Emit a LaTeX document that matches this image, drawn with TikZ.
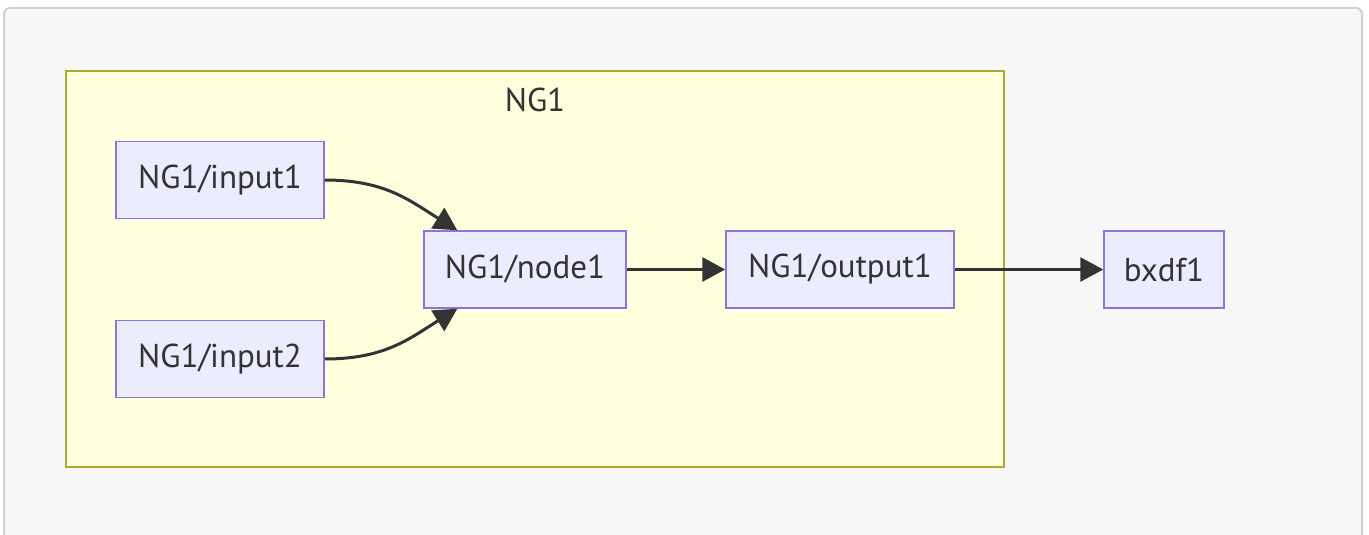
\documentclass[tikz,border=0pt]{standalone}
\usepackage{fontspec}
\setmainfont{PT Sans}
\usetikzlibrary{arrows.meta}

\definecolor{ngfill}{HTML}{ECECFF}
\definecolor{ngline}{HTML}{9370DB}
\definecolor{ngtext}{HTML}{333333}
\definecolor{grpfill}{HTML}{FFFFDE}
\definecolor{grpline}{HTML}{AAAA33}
\definecolor{bgfill}{HTML}{F7F7F7}
\definecolor{bgline}{HTML}{D0D0D0}

\begin{document}
\begin{tikzpicture}[x=1pt, y=-1pt,
    ngbox/.style={draw=ngline, fill=ngfill, line width=1.5pt, minimum height=77pt,
        inner sep=0pt, text=ngtext, font=\fontsize{33}{39}\selectfont},
    ngedge/.style={draw=ngtext, line width=3pt, -{Triangle[length=23pt,width=24pt]}}]

    % canvas
    \useasboundingbox (0,0) rectangle (1369,535);
    \clip (0,0) rectangle (1369,535);
    \draw [bgline, fill=bgfill, line width=2pt, rounded corners=6pt] (4,8) rectangle (1362,570);

    % group NG1
    \draw [grpline, fill=grpfill, line width=1.5pt] (66,71) rectangle (1004,467);
    \node [text=ngtext, font=\fontsize{33}{39}\selectfont] (ng1) at (535,100) {NG1};

    % nodes
    \node [ngbox, minimum width=208pt] (in1) at (220,180) {NG1/input1};
    \node [ngbox, minimum width=208pt] (in2) at (220,359) {NG1/input2};
    \node [ngbox, minimum width=202pt] (node1) at (525,269.5) {NG1/node1};
    \node [ngbox, minimum width=228pt] (out1) at (840,269.5) {NG1/output1};
    \node [ngbox, minimum width=120pt] (bxdf1) at (1164,269.5) {bxdf1};

    % edges
    \draw [ngedge] (in1.east) .. controls +(60,0) and +(-48,-30) .. ([xshift=34pt]node1.north west);
    \draw [ngedge] (in2.east) .. controls +(60,0) and +(-48,30) .. ([xshift=34pt]node1.south west);
    \draw [ngedge] (node1) -- (out1);
    \draw [ngedge] (out1) -- (bxdf1);

\end{tikzpicture}
\end{document}
